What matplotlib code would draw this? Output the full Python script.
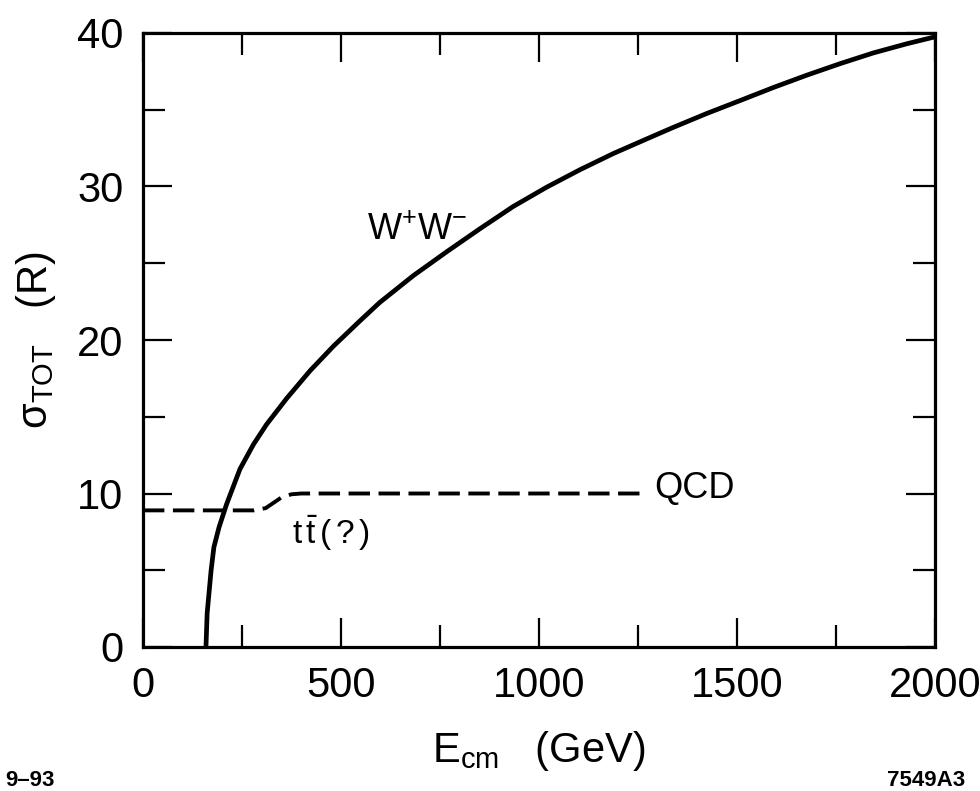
import numpy as np
import matplotlib.pyplot as plt
from matplotlib.ticker import MultipleLocator

plt.rcParams['font.family'] = ['Liberation Sans', 'DejaVu Sans']
plt.rcParams['mathtext.fontset'] = 'custom'
plt.rcParams['mathtext.rm'] = 'Liberation Sans'
plt.rcParams['mathtext.it'] = 'Liberation Sans'
plt.rcParams['mathtext.default'] = 'regular'

# W+W- cross section (units of R) vs E_cm (GeV)
ww_e = [159, 162, 172, 179, 192, 211, 245, 279, 312, 363, 422, 481, 548, 598,
        649, 683, 767, 851, 935, 1019, 1104, 1188, 1272, 1339, 1423, 1508,
        1592, 1676, 1760, 1844, 1929, 2000]
ww_r = [0.0, 2.2, 5.0, 6.5, 7.8, 9.3, 11.6, 13.2, 14.5, 16.2, 18.0, 19.6,
        21.25, 22.45, 23.5, 24.2, 25.75, 27.25, 28.7, 29.95, 31.1, 32.15,
        33.1, 33.85, 34.75, 35.6, 36.45, 37.25, 38.0, 38.7, 39.3, 39.75]

# QCD total (with possible top threshold)
qcd_e = [0, 280, 310, 330, 350, 375, 400, 1255]
qcd_r = [8.9, 8.9, 9.05, 9.4, 9.75, 9.95, 10.0, 10.0]

fig = plt.figure(figsize=(9.8, 7.91), dpi=100)
ax = fig.add_axes([143 / 980, 144 / 791, 792 / 980, 614 / 791])

ax.plot(ww_e, ww_r, color='black', lw=3.4, solid_capstyle='butt',
        solid_joinstyle='round')
ax.plot(qcd_e, qcd_r, color='black', lw=2.8, dashes=(5.5, 2.2))

ax.set_xlim(0, 2000)
ax.set_ylim(0, 40)
ax.xaxis.set_major_locator(MultipleLocator(500))
ax.xaxis.set_minor_locator(MultipleLocator(250))
ax.yaxis.set_major_locator(MultipleLocator(10))
ax.yaxis.set_minor_locator(MultipleLocator(5))
ax.tick_params(which='both', direction='in', top=True, right=True,
               width=1.6, labelsize=30, pad=14)
ax.tick_params(which='major', length=21)
ax.tick_params(which='minor', length=16)
for s in ax.spines.values():
    s.set_linewidth(2.3)

ax.set_xlabel(r'$E_{cm}$   (GeV)', fontsize=30, labelpad=16)
ax.set_ylabel(r'$\sigma_{TOT}$   (R)', fontsize=30, labelpad=14)

fig.text(367 / 980, 1 - 240 / 791, r'$W^{+}W^{-}$', fontsize=26,
         va='baseline', ha='left')
ax.text(1290, 10.3, 'QCD', fontsize=26, va='center', ha='left')
ax.text(375, 7.4, r'$t\,\bar{t}\,(\,?\,)$', fontsize=24, va='center',
        ha='left')

fig.text(5 / 980, 1 - 780 / 791, '9–93', fontsize=16, fontweight='bold',
         va='center', ha='left')
fig.text(965 / 980, 1 - 780 / 791, '7549A3', fontsize=16, fontweight='bold',
         va='center', ha='right')

fig.savefig('out.png', dpi=100)
